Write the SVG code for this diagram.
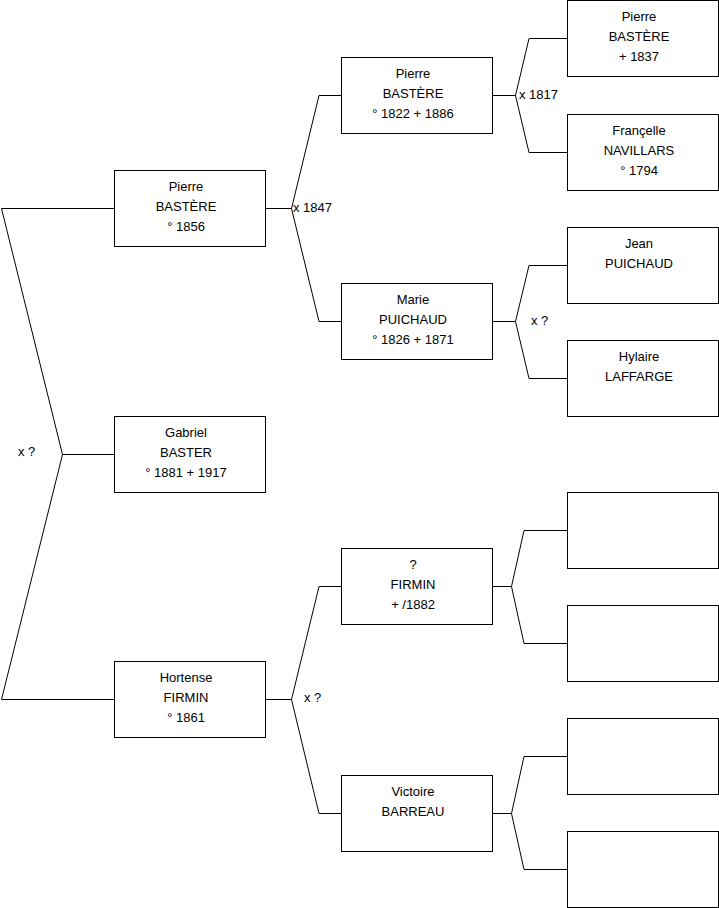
<svg xmlns="http://www.w3.org/2000/svg" width="719" height="908" viewBox="0 0 719 908">
<style>
.box{fill:#fff;stroke:#000;stroke-width:1}
.ln{fill:none;stroke:#000;stroke-width:1}
text{font-family:"Liberation Sans",Arial,sans-serif;font-size:13px;fill:#000}
.c{text-anchor:middle}
</style>
<rect width="719" height="908" fill="#fff"/>
<g id="connectors">
<path class="ln" d="M114,208.5H1.5L62.5,454.5L1.5,699.5H114M62.5,454.5H114"/>
<path class="ln" d="M265,208.5H291.5L319,95.5H341M291.5,208.5L319,321.5H341"/>
<path class="ln" d="M265,699.5H291.5L319,586.5H341M291.5,699.5L319,813.5H341"/>
<path class="ln" d="M492,95.5H515.5L529,38.5H567M515.5,95.5L529,152.5H567"/>
<path class="ln" d="M492,321.5H515.5L529,265.5H567M515.5,321.5L529,378.5H567"/>
<path class="ln" d="M492,586.5H511.5L524,530.5H567M511.5,586.5L524,643.5H567"/>
<path class="ln" d="M492,813.5H511.5L524,756.5H567M511.5,813.5L524,869.5H567"/>
<text x="18" y="456">x ?</text>
<text x="293" y="212">x 1847</text>
<text x="304" y="702">x ?</text>
<text x="519" y="99">x 1817</text>
<text x="531" y="325">x ?</text>
</g>
<g id="n-gabriel">
<rect class="box" x="114.5" y="416.5" width="151" height="76"/>
<text class="c" x="186" y="437">Gabriel</text>
<text class="c" x="186" y="457">BASTER</text>
<text class="c" x="186" y="477">° 1881 + 1917</text>
</g>
<g id="n-pierre1856">
<rect class="box" x="114.5" y="170.5" width="151" height="76"/>
<text class="c" x="186" y="191">Pierre</text>
<text class="c" x="186" y="211">BASTÈRE</text>
<text class="c" x="186" y="231">° 1856</text>
</g>
<g id="n-hortense">
<rect class="box" x="114.5" y="661.5" width="151" height="76"/>
<text class="c" x="186" y="682">Hortense</text>
<text class="c" x="186" y="702">FIRMIN</text>
<text class="c" x="186" y="722">° 1861</text>
</g>
<g id="n-pierre1822">
<rect class="box" x="341.5" y="57.5" width="151" height="76"/>
<text class="c" x="413" y="78">Pierre</text>
<text class="c" x="413" y="98">BASTÈRE</text>
<text class="c" x="413" y="118">° 1822 + 1886</text>
</g>
<g id="n-marie">
<rect class="box" x="341.5" y="283.5" width="151" height="76"/>
<text class="c" x="413" y="304">Marie</text>
<text class="c" x="413" y="324">PUICHAUD</text>
<text class="c" x="413" y="344">° 1826 + 1871</text>
</g>
<g id="n-firmin">
<rect class="box" x="341.5" y="548.5" width="151" height="76"/>
<text class="c" x="413" y="569">?</text>
<text class="c" x="413" y="589">FIRMIN</text>
<text class="c" x="413" y="609">+ /1882</text>
</g>
<g id="n-victoire">
<rect class="box" x="341.5" y="775.5" width="151" height="76"/>
<text class="c" x="413" y="796">Victoire</text>
<text class="c" x="413" y="816">BARREAU</text>
</g>
<g id="n-pierre1837">
<rect class="box" x="567.5" y="0.5" width="151" height="76"/>
<text class="c" x="639" y="21">Pierre</text>
<text class="c" x="639" y="41">BASTÈRE</text>
<text class="c" x="639" y="61">+ 1837</text>
</g>
<g id="n-francelle">
<rect class="box" x="567.5" y="114.5" width="151" height="76"/>
<text class="c" x="639" y="135">Françelle</text>
<text class="c" x="639" y="155">NAVILLARS</text>
<text class="c" x="639" y="175">° 1794</text>
</g>
<g id="n-jean">
<rect class="box" x="567.5" y="227.5" width="151" height="76"/>
<text class="c" x="639" y="248">Jean</text>
<text class="c" x="639" y="268">PUICHAUD</text>
</g>
<g id="n-hylaire">
<rect class="box" x="567.5" y="340.5" width="151" height="76"/>
<text class="c" x="639" y="361">Hylaire</text>
<text class="c" x="639" y="381">LAFFARGE</text>
</g>
<g id="n-empty1"><rect class="box" x="567.5" y="492.5" width="151" height="76"/></g>
<g id="n-empty2"><rect class="box" x="567.5" y="605.5" width="151" height="76"/></g>
<g id="n-empty3"><rect class="box" x="567.5" y="718.5" width="151" height="76"/></g>
<g id="n-empty4"><rect class="box" x="567.5" y="831.5" width="151" height="76"/></g>
</svg>
